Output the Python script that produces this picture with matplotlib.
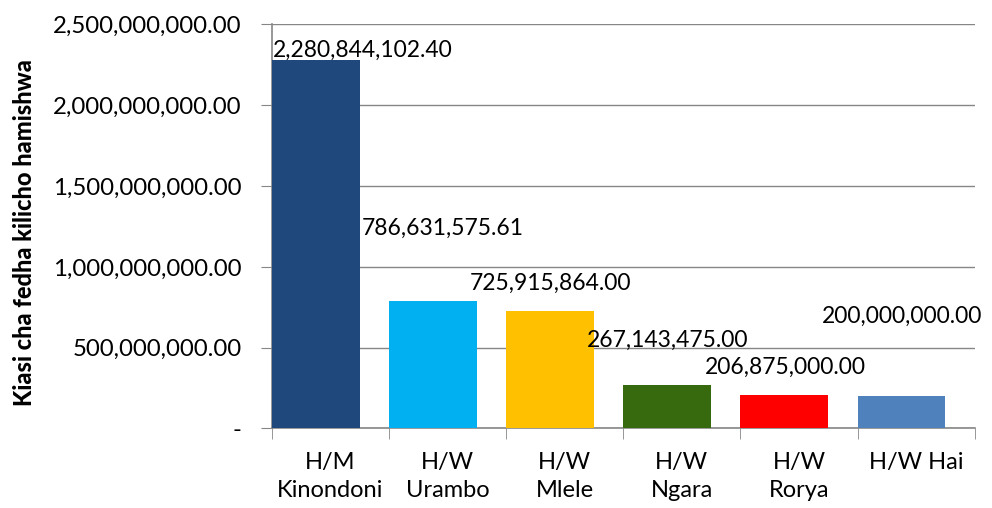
import matplotlib.pyplot as plt
from matplotlib.ticker import FuncFormatter, FixedLocator

districts = ["H/M\nKinondoni", "H/W\nUrambo", "H/W\nMlele", "H/W\nNgara", "H/W\nRorya", "H/W Hai"]
amounts = [2280844102.40, 786631575.61, 725915864.00, 267143475.00, 206875000.00, 200000000.00]
bar_colors = ["#1F497D", "#00B0F0", "#FFC000", "#376A0E", "#FF0000", "#4F81BD"]
yticks = [0, 500e6, 1000e6, 1500e6, 2000e6, 2500e6]

# label anchor positions (left edge, vertical centre) as in the original sheet
label_x = [-0.489, 0.267, 1.19, 2.188, 3.194, 4.196]
label_y = [2.339e9, 1.236e9, 0.901e9, 0.548e9, 0.379e9, 0.693e9]

plt.rcParams["font.family"] = ["Lato", "DejaVu Sans"]

fig = plt.figure(figsize=(9.92, 5.08), dpi=100)
ax = fig.add_axes([0.2739, 0.1565, 0.7087, 0.7953])

pos = list(range(len(districts)))
# bars sit at the left of each category slot
ax.bar([p - 0.125 for p in pos], amounts, width=0.75, color=bar_colors, zorder=3)

for xi, yi, v in zip(label_x, label_y, amounts):
    ax.text(xi, yi, f"{v:,.2f}", ha="left", va="center", fontsize=16.5, zorder=4)

ax.set_xlim(-0.5, len(districts) - 0.5)
ax.set_ylim(0, 2.5e9)
ax.set_yticks(yticks)
ax.yaxis.set_major_formatter(FuncFormatter(lambda v, p: "-" if v == 0 else f"{v:,.2f}"))
ax.set_xticks(pos)
ax.set_xticklabels(districts, fontsize=17, linespacing=1.4)
ax.xaxis.set_minor_locator(FixedLocator([i - 0.5 for i in range(len(districts) + 1)]))
ax.tick_params(axis="x", which="major", length=0, pad=17)
ax.tick_params(axis="x", which="minor", length=8, color="#868686", direction="out")
ax.tick_params(axis="y", length=8, color="#868686", labelsize=17.3, pad=13.5)

ax.grid(axis="y", color="#868686", linewidth=1, zorder=0)
for s in ["top", "right"]:
    ax.spines[s].set_visible(False)
for s in ["left", "bottom"]:
    ax.spines[s].set_color("#868686")
    ax.spines[s].set_linewidth(1.2)

ax.set_ylabel("Kiasi cha fedha kilicho hamishwa", fontsize=17, fontweight="black")
ax.yaxis.set_label_coords(-0.335, 0.485)

fig.savefig("out.png", dpi=100)
